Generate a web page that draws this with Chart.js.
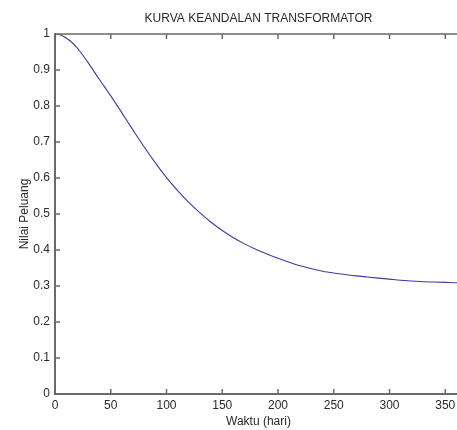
<!DOCTYPE html>
<html>
<head>
<meta charset="utf-8">
<script src="https://cdn.jsdelivr.net/npm/chart.js@4"></script>
<style>
    body { margin: 0; overflow: hidden; background: #fff; }
    #wrap { width: 457px; height: 430px; overflow: hidden; }
</style>
</head>
<body>
<div id="wrap"><canvas id="lineChart" width="462" height="430"></canvas></div>
<script>
// hari (days) and reliability values
const waktu = [0, 5, 10, 15, 20, 25, 30, 40, 50, 60, 70, 80, 90, 100, 110, 120, 130, 140, 150, 160, 170, 180,
    190, 200, 210, 220, 230, 240, 250, 260, 270, 280, 290, 300, 310, 320, 330, 340, 350, 360, 365]
const nilaiPeluang = [1.000, 0.997, 0.989, 0.977, 0.961, 0.941, 0.919, 0.873, 0.828, 0.781, 0.733,
    0.686, 0.642, 0.601, 0.565, 0.532, 0.503, 0.477, 0.454, 0.434, 0.417, 0.402, 0.389, 0.377,
    0.366, 0.356, 0.348, 0.341, 0.336, 0.332, 0.328, 0.325, 0.322, 0.319, 0.316, 0.314, 0.312,
    0.311, 0.310, 0.309, 0.309]
const xTicks = [0, 50, 100, 150, 200, 250, 300, 350]
const yTicks = [0, 0.1, 0.2, 0.3, 0.4, 0.5, 0.6, 0.7, 0.8, 0.9, 1]

const axisColor = '#6a6a6a'
const textColor = '#2a2a2a'
const fontFamily = '"Liberation Sans", Arial, sans-serif'

// matlab style box: top/right border + ticks pointing inward
const boxPlugin = {
    id: 'boxPlugin',
    afterDatasetsDraw(chart) {
        const ctx = chart.ctx
        const area = chart.chartArea
        const xs = chart.scales.x
        const ys = chart.scales.y
        const len = 5
        ctx.save()
        ctx.strokeStyle = axisColor
        ctx.lineWidth = 1.5
        ctx.beginPath()
        ctx.moveTo(area.left, area.top)
        ctx.lineTo(area.right, area.top)
        ctx.lineTo(area.right, area.bottom)
        xTicks.forEach(v => {
            let px = xs.getPixelForValue(v)
            ctx.moveTo(px, area.bottom)
            ctx.lineTo(px, area.bottom - len)
            ctx.moveTo(px, area.top)
            ctx.lineTo(px, area.top + len)
        })
        yTicks.forEach(v => {
            let py = ys.getPixelForValue(v)
            ctx.moveTo(area.left, py)
            ctx.lineTo(area.left + len, py)
            ctx.moveTo(area.right, py)
            ctx.lineTo(area.right - len, py)
        })
        ctx.stroke()
        ctx.restore()
    }
}

document.addEventListener("DOMContentLoaded", function() {
    let lineData = {
        datasets: [{
            label: 'Keandalan',
            data: waktu.map((w, i) => ({ x: w, y: nilaiPeluang[i] })),
            borderColor: '#3c3c9a',
            borderWidth: 1.1,
            pointRadius: 0,
            fill: false,
            cubicInterpolationMode: 'monotone'
        }]
    }

    let lineOptions = {
        responsive: false,
        animation: false,
        layout: { padding: 0 },
        plugins: {
            legend: { display: false },
            tooltip: { enabled: false },
            title: {
                display: true,
                fullSize: false,
                text: 'KURVA KEANDALAN TRANSFORMATOR',
                color: textColor,
                font: { family: fontFamily, size: 12, weight: 'normal' },
                padding: { top: 11, bottom: 8.6 }
            }
        },
        scales: {
            x: {
                type: 'linear',
                min: 0,
                max: 365,
                afterBuildTicks: scale => { scale.ticks = xTicks.map(v => ({ value: v })) },
                afterFit: scale => { scale.height = 36 },
                grid: { display: false, drawTicks: false },
                border: { display: true, color: axisColor, width: 2 },
                ticks: {
                    color: textColor,
                    padding: 4,
                    maxRotation: 0,
                    font: { family: fontFamily, size: 12 }
                },
                title: {
                    display: true,
                    text: 'Waktu (hari)',
                    color: textColor,
                    font: { family: fontFamily, size: 12 },
                    padding: { top: 0, bottom: 1 }
                }
            },
            y: {
                type: 'linear',
                min: 0,
                max: 1,
                afterBuildTicks: scale => { scale.ticks = yTicks.map(v => ({ value: v })) },
                afterFit: scale => { scale.width = 55 },
                grid: { display: false, drawTicks: false },
                border: { display: true, color: axisColor, width: 2 },
                ticks: {
                    color: textColor,
                    padding: 5,
                    font: { family: fontFamily, size: 12 },
                    callback: v => String(Math.round(v * 10) / 10)
                },
                title: {
                    display: true,
                    text: 'Nilai Peluang',
                    color: textColor,
                    font: { family: fontFamily, size: 12 },
                    padding: { top: 17, bottom: 0 }
                }
            }
        }
    }

    let lineChart = new Chart(document.getElementById('lineChart'), {
        type: 'line',
        data: lineData,
        options: lineOptions,
        plugins: [boxPlugin]
    })
})
</script>
</body>
</html>
